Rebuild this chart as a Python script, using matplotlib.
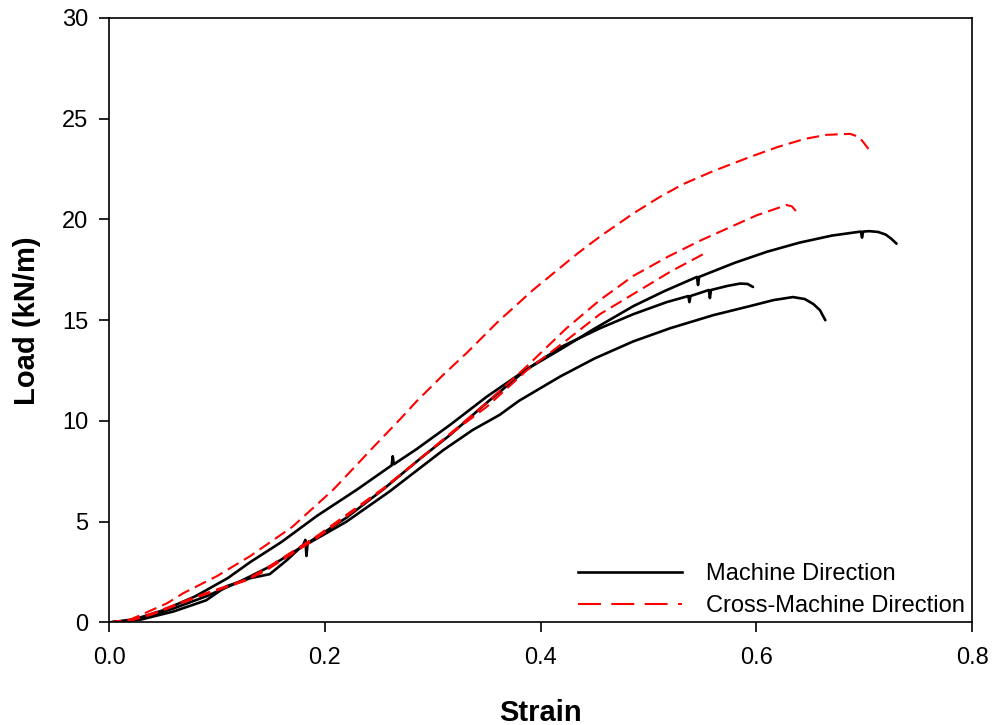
import matplotlib
matplotlib.use("Agg")
import matplotlib.pyplot as plt
from matplotlib.lines import Line2D

plt.rcParams['font.family'] = ['Liberation Sans', 'DejaVu Sans']

# Machine direction specimens (strain, load kN/m)
md1_strain = [0.0, 0.02, 0.05, 0.08, 0.11, 0.131, 0.16, 0.193, 0.23, 0.262, 0.263, 0.264, 0.285, 0.316,
              0.35, 0.387, 0.42, 0.449, 0.486, 0.515, 0.545, 0.546, 0.547, 0.58, 0.61, 0.64, 0.67,
              0.69, 0.697, 0.698, 0.699, 0.705, 0.713, 0.72, 0.725, 0.73]
md1_load = [0.0, 0.1, 0.6, 1.3, 2.2, 3.0, 4.0, 5.3, 6.6, 7.8, 8.25, 7.85, 8.6, 9.8,
            11.2, 12.56, 13.6, 14.55, 15.7, 16.45, 17.15, 16.75, 17.15, 17.85, 18.4, 18.85, 19.2,
            19.35, 19.4, 19.1, 19.4, 19.42, 19.38, 19.25, 19.05, 18.8]

md2_strain = [0.0, 0.03, 0.06, 0.09, 0.12, 0.15, 0.183, 0.22, 0.254, 0.29, 0.316, 0.35, 0.387,
              0.42, 0.455, 0.486, 0.517, 0.537, 0.538, 0.539, 0.556, 0.557, 0.558,
              0.573, 0.585, 0.592, 0.597]
md2_load = [0.0, 0.2, 0.7, 1.3, 2.0, 2.8, 3.9, 5.2, 6.6, 8.2, 9.3, 10.9, 12.56,
            13.7, 14.6, 15.3, 15.9, 16.2, 15.9, 16.2, 16.5, 16.1, 16.5,
            16.7, 16.82, 16.8, 16.65]

md3_strain = [0.0, 0.03, 0.06, 0.09, 0.109, 0.131, 0.149, 0.165, 0.18, 0.182, 0.183, 0.184, 0.22,
              0.26, 0.31, 0.337, 0.362, 0.38, 0.418, 0.45, 0.486, 0.52, 0.56, 0.594, 0.616, 0.634,
              0.645, 0.653, 0.659, 0.662, 0.664]
md3_load = [0.0, 0.15, 0.55, 1.1, 1.8, 2.2, 2.4, 3.1, 3.85, 4.1, 3.3, 3.9, 5.0,
            6.5, 8.56, 9.55, 10.3, 11.0, 12.2, 13.1, 13.95, 14.6, 15.25, 15.7, 16.0, 16.15,
            16.05, 15.8, 15.5, 15.2, 15.0]

# Cross-machine direction specimens
cmd1_strain = [0.0, 0.02, 0.054, 0.069, 0.10, 0.131, 0.17, 0.208, 0.245, 0.27, 0.2855, 0.31, 0.332,
               0.36, 0.393, 0.434, 0.455, 0.486, 0.51, 0.532, 0.56, 0.594, 0.62, 0.645, 0.665,
               0.687, 0.695, 0.699, 0.704]
cmd1_load = [0.0, 0.15, 0.96, 1.46, 2.3, 3.3, 4.75, 6.6, 8.7, 10.1, 11.0, 12.3, 13.4,
             14.9, 16.5, 18.3, 19.15, 20.3, 21.1, 21.75, 22.4, 23.1, 23.6, 24.0, 24.2,
             24.25, 24.1, 23.85, 23.5]

cmd2_strain = [0.0, 0.02, 0.04, 0.084, 0.128, 0.146, 0.193, 0.254, 0.319, 0.35, 0.387, 0.424,
               0.455, 0.486, 0.518, 0.548, 0.575, 0.6, 0.619, 0.628, 0.633, 0.637]
cmd2_load = [0.0, 0.1, 0.4, 1.3, 2.1, 2.6, 4.2, 6.6, 9.5, 10.9, 12.7, 14.6,
             16.0, 17.2, 18.15, 18.95, 19.6, 20.2, 20.55, 20.72, 20.65, 20.4]

cmd3_strain = [0.0, 0.02, 0.04, 0.084, 0.128, 0.146, 0.193, 0.254, 0.319, 0.35, 0.387, 0.424,
               0.455, 0.486, 0.52, 0.555]
cmd3_load = [0.0, 0.1, 0.45, 1.35, 2.15, 2.7, 4.3, 6.65, 9.45, 10.7, 12.5, 14.0,
             15.3, 16.3, 17.4, 18.4]

x_ticks = [0.0, 0.2, 0.4, 0.6, 0.8]
y_ticks = [0, 5, 10, 15, 20, 25, 30]
legend_labels = ["Machine Direction", "Cross-Machine Direction"]

fig = plt.figure(figsize=(9.93, 7.25), dpi=100)
ax = fig.add_axes([0.1098, 0.1414, 0.8691, 0.8338])

for xs, ys in [(md1_strain, md1_load), (md2_strain, md2_load), (md3_strain, md3_load)]:
    ax.plot(xs, ys, color='black', lw=1.9, solid_capstyle='round', solid_joinstyle='round')

for xs, ys in [(cmd1_strain, cmd1_load), (cmd2_strain, cmd2_load), (cmd3_strain, cmd3_load)]:
    ax.plot(xs, ys, color='#ff0000', lw=1.5, dashes=(6, 3))

ax.set_xlim(0, 0.8)
ax.set_ylim(0, 30)
ax.set_xticks(x_ticks)
ax.set_xticklabels([f"{v:.1f}" for v in x_ticks])
ax.set_yticks(y_ticks)
ax.tick_params(direction='out', length=7, width=1.2, labelsize=17, colors='black')
ax.tick_params(axis='y', pad=8)
ax.tick_params(axis='x', pad=11)
for s in ax.spines.values():
    s.set_linewidth(1.2)

ax.set_xlabel("Strain", fontsize=21, fontweight='bold', labelpad=21)
ax.set_ylabel("Load (kN/m)", fontsize=21, fontweight='bold', labelpad=15)

handles = [Line2D([], [], color='black', lw=1.9),
           Line2D([], [], color='#ff0000', lw=1.5, dashes=(11, 5))]
ax.legend(handles, legend_labels, loc='upper left', bbox_to_anchor=(578 / 993, 1 - 563 / 725),
          bbox_transform=fig.transFigure, frameon=False, fontsize=17, handlelength=4.4,
          handletextpad=1.0, labelspacing=0.42, borderpad=0, borderaxespad=0)

fig.savefig("out.png", dpi=100)
